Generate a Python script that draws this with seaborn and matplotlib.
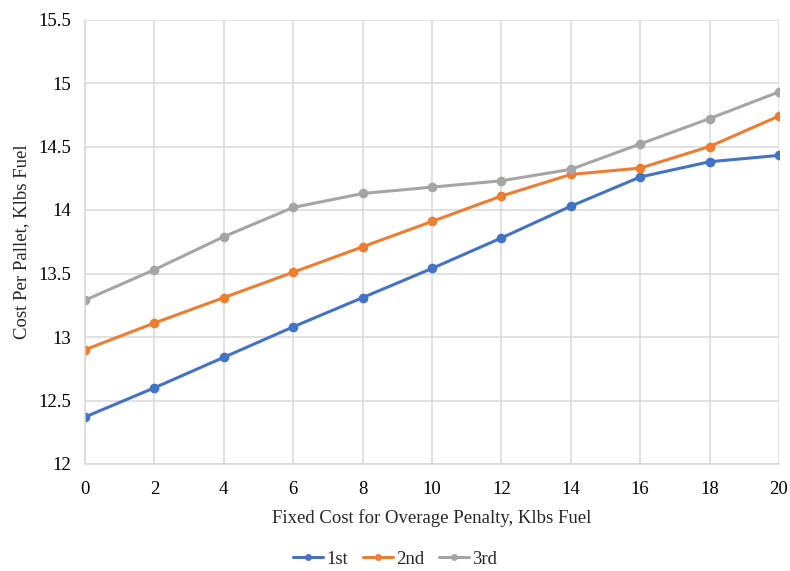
import numpy as np
import pandas as pd
import matplotlib
matplotlib.use("Agg")
import matplotlib.pyplot as plt
import seaborn as sns

# Values
fixed_cost = [0, 2, 4, 6, 8, 10, 12, 14, 16, 18, 20]
first = [12.37, 12.60, 12.84, 13.08, 13.31, 13.54, 13.78, 14.03, 14.26, 14.38, 14.43]
second = [12.90, 13.11, 13.31, 13.51, 13.71, 13.91, 14.11, 14.28, 14.33, 14.50, 14.74]
third = [13.29, 13.53, 13.79, 14.02, 14.13, 14.18, 14.23, 14.32, 14.52, 14.72, 14.93]
series_names = ["1st", "2nd", "3rd"]
colors = ["#4472C4", "#ED7D31", "#A5A5A5"]

# Long format for seaborn
df = pd.DataFrame({
    "x": fixed_cost * 3,
    "y": first + second + third,
    "series": [s for s in series_names for _ in fixed_cost],
})

sns.set_style("whitegrid")
plt.rcParams['font.family'] = ['Liberation Serif', 'DejaVu Serif']

fig = plt.figure(figsize=(7.9, 5.71), dpi=100)
ax = fig.add_axes([85 / 790, 1 - 464 / 571, (779 - 85) / 790, (464 - 19.5) / 571])

sns.lineplot(data=df, x="x", y="y", hue="series", palette=colors, marker="o",
             markersize=7, markeredgewidth=0, linewidth=2.2, ax=ax, legend=True)

ax.set_xlim(0, 20)
ax.set_ylim(12, 15.5)
ax.set_xticks(fixed_cost)
ax.set_yticks(np.arange(12, 15.51, 0.5))
ax.set_yticklabels(["12", "12.5", "13", "13.5", "14", "14.5", "15", "15.5"])
ax.tick_params(axis="both", labelsize=13.5, length=0, colors="#000000")
ax.tick_params(axis="x", pad=12)
ax.tick_params(axis="y", pad=10)
ax.grid(True, color="#D9D9D9", linewidth=1.1)
for side, sp in ax.spines.items():
    sp.set_visible(side in ("left", "bottom"))
    sp.set_color("#D9D9D9")
    sp.set_linewidth(1.1)

ax.set_xlabel("Fixed Cost for Overage Penalty, Klbs Fuel", fontsize=13.5, labelpad=8)
ax.set_ylabel("Cost Per Pallet, Klbs Fuel", fontsize=13.5, labelpad=6)

# move the legend below the plot, centred on the figure
handles, labels = ax.get_legend_handles_labels()
ax.get_legend().remove()
for h in handles:
    h.set_markersize(5)
fig.legend(handles, labels, loc="center", bbox_to_anchor=(0.5, 1 - 559 / 571), ncol=3,
           frameon=False, fontsize=13.5, handlelength=1.6, handletextpad=0.15,
           columnspacing=0.8)

fig.savefig("out.png", dpi=100)
